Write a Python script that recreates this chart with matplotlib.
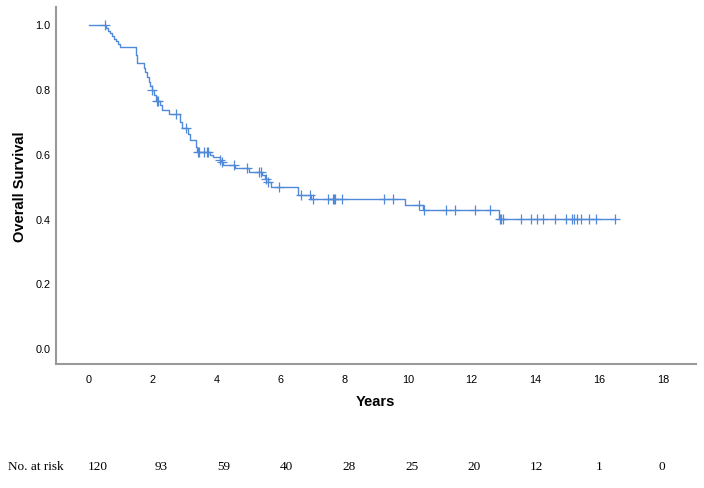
import numpy as np
import matplotlib
matplotlib.use("Agg")
import matplotlib.pyplot as plt

# Kaplan-Meier step curve: event times and survival after each event
event_times = [0.55, 0.60, 0.66, 0.72, 0.78, 0.84, 0.90, 0.98, 1.47, 1.50,
               1.72, 1.76, 1.82, 1.88, 1.93, 1.98, 2.05, 2.12, 2.22, 2.30,
               2.50, 2.87, 2.92, 3.10, 3.16, 3.37, 3.40, 3.80, 3.88, 4.10,
               4.15, 4.22, 4.58, 5.03, 5.44, 5.52, 5.60, 5.72, 6.54, 6.96,
               9.92, 10.46, 12.86]
event_surv = [0.992, 0.983, 0.975, 0.967, 0.958, 0.950, 0.942, 0.933, 0.908, 0.884,
              0.868, 0.856, 0.841, 0.826, 0.812, 0.800, 0.783, 0.766, 0.753, 0.738,
              0.725, 0.700, 0.681, 0.664, 0.645, 0.625, 0.607, 0.600, 0.593, 0.584,
              0.576, 0.568, 0.558, 0.547, 0.537, 0.526, 0.515, 0.501, 0.477, 0.462,
              0.444, 0.428, 0.403]
censor_times = [0.50, 1.99, 2.14, 2.16, 2.72, 3.05, 3.42, 3.46, 3.60, 3.70, 3.74,
                4.12, 4.17, 4.54, 4.97, 5.34, 5.39, 5.55, 5.62, 5.95, 6.65, 6.94,
                7.01, 7.51, 7.66, 7.69, 7.72, 7.92, 9.26, 9.54, 10.36, 10.51, 11.20,
                11.48, 12.10, 12.57, 12.88, 12.92, 12.98, 13.53, 13.87, 14.04, 14.23,
                14.61, 14.96, 15.14, 15.21, 15.30, 15.44, 15.69, 15.88, 16.50]
end_time = 16.5

x_ticks = [0, 2, 4, 6, 8, 10, 12, 14, 16, 18]
y_ticks = [0.0, 0.2, 0.4, 0.6, 0.8, 1.0]
at_risk = [120, 93, 59, 40, 28, 25, 20, 12, 1, 0]

W, H = 704, 488
fig = plt.figure(figsize=(W / 100, H / 100), dpi=100)
ax = fig.add_axes([56 / W, 1 - 364 / H, (696 - 56) / W, (364 - 7) / H])

color = "#5089d8"
xs = [0.0] + list(event_times) + [end_time]
ys = [1.0] + list(event_surv) + [event_surv[-1]]
ax.step(xs, ys, where="post", color=color, lw=1.0)

et = np.array(event_times)
es = np.array(event_surv)
def surv_at(t):
    idx = np.searchsorted(et, t, side="right") - 1
    return 1.0 if idx < 0 else es[idx]
cy = [surv_at(t) for t in censor_times]
ax.plot(censor_times, cy, ls="none", marker="+", ms=6.5, mew=0.9, color=color)

ax.set_xlim(-1.03, 19.03)
ax.set_ylim(-0.046, 1.056)
ax.set_xticks(x_ticks)
ax.set_xticklabels([str(v) for v in x_ticks])
ax.set_yticks(y_ticks)
ax.set_yticklabels([f"{v:.1f}" for v in y_ticks])
ax.tick_params(length=0, labelsize=7.8, colors="black")
ax.tick_params(axis="x", pad=8)
ax.tick_params(axis="y", pad=4)
for lab in ax.get_xticklabels() + ax.get_yticklabels():
    lab.set_family(["Liberation Sans Narrow", "Liberation Sans", "DejaVu Sans"])
for s in ["top", "right"]:
    ax.spines[s].set_visible(False)
for s in ["left", "bottom"]:
    ax.spines[s].set_color("#999999")
    ax.spines[s].set_linewidth(1.5)

fig.text(20 / W, 1 - 187 / H, "Overall Survival", rotation=90, ha="center", va="center",
         fontsize=10.5, fontweight="bold", family=["Liberation Sans", "DejaVu Sans"])
fig.text(375 / W, 1 - 402 / H, "Years", ha="center", va="center",
         fontsize=10.5, fontweight="bold", family=["Liberation Sans", "DejaVu Sans"])

serif = ["Liberation Serif", "DejaVu Serif"]
fig.text(8 / W, 1 - 467 / H, "No. at risk", ha="left", va="center", fontsize=9.5, family=serif)
risk_x0, risk_dx = 98, 62.7
for i, n in enumerate(at_risk):
    fig.text((risk_x0 + i * risk_dx) / W, 1 - 467 / H, str(n), ha="center", va="center",
             fontsize=9.5, family=serif)

fig.savefig("out.png", dpi=100)
